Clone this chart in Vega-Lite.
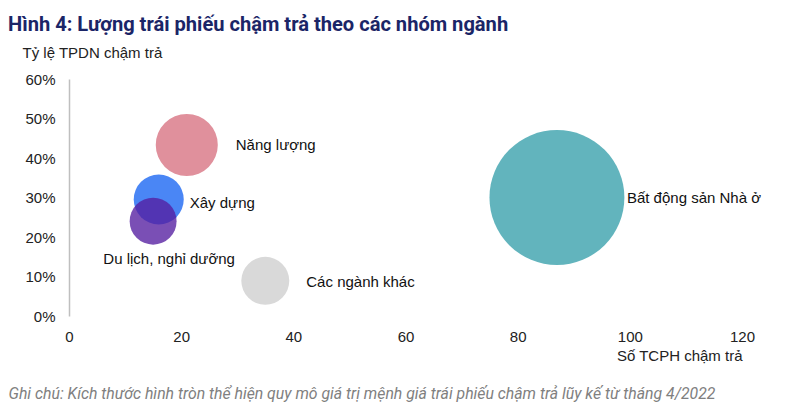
{
  "$schema": "https://vega.github.io/schema/vega-lite/v6.json",
  "width": 673,
  "height": 237,
  "autosize": {"type": "none"},
  "padding": {"left": 69, "top": 79, "right": 51, "bottom": 91},
  "background": "white",
  "config": {"view": {"stroke": null}, "font": "Roboto"},
  "title": {
    "text": "Hình 4: Lượng trái phiếu chậm trả theo các nhóm ngành",
    "font": "Roboto",
    "fontSize": 20.1,
    "fontWeight": "bold",
    "color": "#1b2567",
    "anchor": "start",
    "frame": "group",
    "dx": -61,
    "offset": 10
  },
  "data": {
    "values": [
      {"nganh": "Bất động sản Nhà ở", "so_tcph": 87, "ty_le": 0.30, "gia_tri": 18200},
      {"nganh": "Năng lượng", "so_tcph": 21, "ty_le": 0.433, "gia_tri": 3850},
      {"nganh": "Xây dựng", "so_tcph": 16, "ty_le": 0.295, "gia_tri": 2500},
      {"nganh": "Du lịch, nghỉ dưỡng", "so_tcph": 15, "ty_le": 0.24, "gia_tri": 2200},
      {"nganh": "Các ngành khác", "so_tcph": 35, "ty_le": 0.089, "gia_tri": 2300}
    ]
  },
  "encoding": {
    "x": {
      "field": "so_tcph",
      "type": "quantitative",
      "scale": {"domain": [0, 120], "nice": false},
      "axis": null
    },
    "y": {
      "field": "ty_le",
      "type": "quantitative",
      "scale": {"domain": [0, 0.6], "nice": false},
      "axis": {
        "values": [0, 0.1, 0.2, 0.3, 0.4, 0.5, 0.6],
        "format": ".0%",
        "grid": false,
        "domain": true,
        "domainColor": "#bfbfbf",
        "domainWidth": 1.5,
        "ticks": false,
        "labelPadding": 14,
        "labelFlush": false,
        "labelFont": "Liberation Sans",
        "labelFontSize": 15,
        "labelColor": "#222222",
        "title": "Tỷ lệ TPDN chậm trả",
        "titleFont": "Liberation Sans",
        "titleFontSize": 15,
        "titleFontWeight": "normal",
        "titleColor": "#222222",
        "titleAngle": 0,
        "titleAlign": "left",
        "titleBaseline": "middle",
        "titleX": -47,
        "titleY": -27
      }
    }
  },
  "layer": [
    {
      "mark": {"type": "circle", "opacity": 1},
      "encoding": {
        "x": {
          "field": "so_tcph",
          "type": "quantitative",
          "axis": {
            "orient": "bottom",
            "values": [0, 20, 40, 60, 80, 100, 120],
            "grid": false,
            "domain": false,
            "ticks": false,
            "labelPadding": 13,
            "labelFlush": false,
            "labelFont": "Liberation Sans",
            "labelFontSize": 15,
            "labelColor": "#222222",
            "title": "Số TCPH chậm trả",
            "titleFont": "Liberation Sans",
            "titleFontSize": 15,
            "titleFontWeight": "normal",
            "titleColor": "#222222",
            "titleAlign": "right",
            "titleAnchor": "end",
            "titleBaseline": "middle",
            "titleX": 673,
            "titleY": 39
          }
        },
        "size": {
          "field": "gia_tri",
          "type": "quantitative",
          "scale": {"domain": [0, 20000], "range": [0, 20000], "zero": true},
          "legend": null
        },
        "color": {
          "field": "nganh",
          "type": "nominal",
          "scale": {
            "domain": ["Bất động sản Nhà ở", "Năng lượng", "Xây dựng", "Du lịch, nghỉ dưỡng", "Các ngành khác"],
            "range": ["#62b4bd", "#e0909c", "#4a86f5", "#551da0", "#d9d9d9"]
          },
          "legend": null
        },
        "opacity": {
          "condition": {"test": "datum.nganh === 'Du lịch, nghỉ dưỡng'", "value": 0.78},
          "value": 1
        }
      }
    },
    {
      "transform": [{"filter": "datum.nganh === 'Năng lượng'"}],
      "mark": {"type": "text", "align": "left", "baseline": "middle", "dx": 49, "font": "Liberation Sans", "fontSize": 15, "color": "#111111"},
      "encoding": {"text": {"field": "nganh"}}
    },
    {
      "transform": [{"filter": "datum.nganh === 'Xây dựng'"}],
      "mark": {"type": "text", "align": "left", "baseline": "middle", "dx": 31, "dy": 4, "font": "Liberation Sans", "fontSize": 15, "color": "#111111"},
      "encoding": {"text": {"field": "nganh"}}
    },
    {
      "transform": [{"filter": "datum.nganh === 'Du lịch, nghỉ dưỡng'"}],
      "mark": {"type": "text", "align": "center", "baseline": "middle", "dx": 16, "dy": 38, "font": "Liberation Sans", "fontSize": 15, "color": "#111111"},
      "encoding": {"text": {"field": "nganh"}}
    },
    {
      "transform": [{"filter": "datum.nganh === 'Các ngành khác'"}],
      "mark": {"type": "text", "align": "left", "baseline": "middle", "dx": 41, "dy": 1, "font": "Liberation Sans", "fontSize": 15, "color": "#111111"},
      "encoding": {"text": {"field": "nganh"}}
    },
    {
      "transform": [{"filter": "datum.nganh === 'Bất động sản Nhà ở'"}],
      "mark": {"type": "text", "align": "left", "baseline": "middle", "dx": 70, "font": "Liberation Sans", "fontSize": 15, "color": "#111111"},
      "encoding": {
        "text": {"field": "nganh"},
        "x": {
          "field": "so_tcph",
          "type": "quantitative",
          "axis": {
            "orient": "bottom",
            "labels": false,
            "ticks": false,
            "domain": false,
            "grid": false,
            "title": "Ghi chú: Kích thước hình tròn thể hiện quy mô giá trị mệnh giá trái phiếu chậm trả lũy kế từ tháng 4/2022",
            "titleFont": "Roboto",
            "titleFontSize": 15.8,
            "titleFontStyle": "italic",
            "titleFontWeight": "normal",
            "titleColor": "#808080",
            "titleAlign": "left",
            "titleAnchor": "start",
            "titleBaseline": "middle",
            "titleX": -61,
            "titleY": 77
          }
        }
      }
    }
  ],
  "resolve": {"axis": {"x": "independent"}}
}
